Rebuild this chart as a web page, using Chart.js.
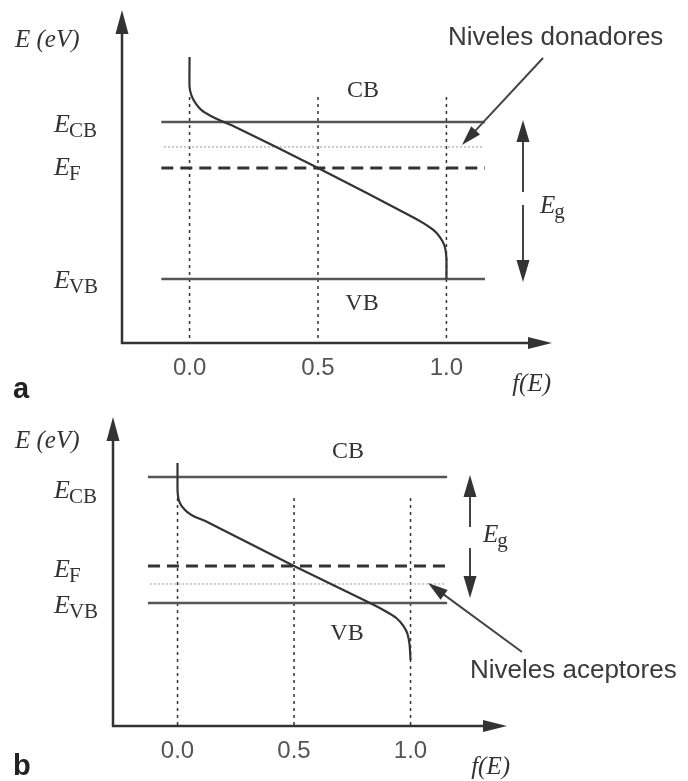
<!DOCTYPE html>
<html>
<head>
<meta charset="utf-8">
<script src="https://cdn.jsdelivr.net/npm/chart.js@4.4.1/dist/chart.umd.min.js"></script>
<style>
  body { margin: 0; background: #fff; }
  canvas { display: block; }
</style>
</head>
<body>
<canvas id="chartA" width="688" height="402"></canvas>
<canvas id="chartB" width="688" height="379"></canvas>
<script>
// Fermi-Dirac curve (f, E in units of Eg above E_VB)
// panel a: n-type
const fA = [0, 0, 0.008, 0.025, 0.05, 0.083, 0.124, 0.178, 0.5, 0.868, 0.912, 0.949, 0.974, 0.993, 1.0, 1.0];
const eA = [1.414, 1.223, 1.166, 1.115, 1.07, 1.038, 1.006, 0.968, 0.707, 0.395, 0.354, 0.312, 0.268, 0.21, 0.134, 0];
// panel b: p-type
const fB = [0, 0, 0.004, 0.017, 0.042, 0.076, 0.119, 0.5, 0.826, 0.891, 0.939, 0.97, 0.987, 0.996, 1.0];
const eB = [1.111, 0.897, 0.825, 0.77, 0.722, 0.683, 0.651, 0.294, 0, -0.063, -0.119, -0.183, -0.246, -0.333, -0.452];

const xTicks = [0, 0.5, 1.0];
const xTickLabels = ['0.0', '0.5', '1.0'];

// energy levels
const ecbA = 1, efA = 0.707, donorA = 0.841, evbA = 0;
const ecbB = 1, efB = 0.294, acceptorB = 0.151, evbB = 0;

// extents of the level lines along f(E)
const spanA = [-0.11, 1.15];
const spanB = [-0.127, 1.157];

function seg(x0, y0, x1, y1) {
  return [{x: x0, y: y0}, {x: x1, y: y1}];
}

function head(ctx, x0, y0, x1, y1, len, hw) {
  const ang = Math.atan2(y1 - y0, x1 - x0);
  ctx.beginPath();
  ctx.moveTo(x1, y1);
  ctx.lineTo(x1 - len * Math.cos(ang) + hw * Math.sin(ang), y1 - len * Math.sin(ang) - hw * Math.cos(ang));
  ctx.lineTo(x1 - len * Math.cos(ang) - hw * Math.sin(ang), y1 - len * Math.sin(ang) + hw * Math.cos(ang));
  ctx.closePath();
  ctx.fill();
}

function arrow(ctx, x0, y0, x1, y1, len, hw) {
  const ang = Math.atan2(y1 - y0, x1 - x0);
  ctx.beginPath();
  ctx.moveTo(x0, y0);
  ctx.lineTo(x1 - (len - 2) * Math.cos(ang), y1 - (len - 2) * Math.sin(ang));
  ctx.stroke();
  head(ctx, x0, y0, x1, y1, len, hw);
}

// italic E with roman subscript
function eLabel(ctx, x, y, sub, size) {
  ctx.textAlign = 'left';
  ctx.font = 'italic ' + size + 'px "Liberation Serif"';
  ctx.fillText('E', x, y);
  const w = ctx.measureText('E').width;
  ctx.font = Math.round(size * 0.82) + 'px "Liberation Serif"';
  ctx.fillText(sub, x + w - 1, y + 5);
}

const schematic = {
  id: 'schematic',
  afterDraw(chart, args, o) {
    const ctx = chart.ctx, a = chart.chartArea;
    const X = v => chart.scales.x.getPixelForValue(v);
    const Y = v => chart.scales.y.getPixelForValue(v);
    ctx.save();
    ctx.setLineDash([]);
    ctx.strokeStyle = '#333';
    ctx.fillStyle = '#333';
    ctx.lineWidth = 2.5;

    // axes with arrows
    arrow(ctx, a.left, a.bottom + 1, a.left, a.top, 24, 6.5);
    arrow(ctx, a.left - 1, a.bottom, a.right, a.bottom, 24, 6);

    // Eg double arrow
    ctx.strokeStyle = '#444';
    ctx.fillStyle = '#333';
    ctx.lineWidth = 2;
    arrow(ctx, o.egX, o.egGap[0], o.egX, Y(o.ecb) - 2, 22, 6.5);
    arrow(ctx, o.egX, o.egGap[1], o.egX, Y(o.evb) + o.egLow, 22, 6.5);

    // pointer to impurity levels
    arrow(ctx, o.ptr[0], o.ptr[1], o.ptr[2], o.ptr[3], 20, 6);

    // texts
    ctx.fillStyle = '#333';
    ctx.textBaseline = 'alphabetic';
    ctx.font = 'italic 25px "Liberation Serif"';
    ctx.textAlign = 'left';
    ctx.fillText('E (eV)', 15, o.eevY);
    eLabel(ctx, 54, Y(o.ecb) + o.lblOff[0], 'CB', 26);
    eLabel(ctx, 54, Y(o.ef) + o.lblOff[1], 'F', 26);
    eLabel(ctx, 54, Y(o.evb) + o.lblOff[2], 'VB', 26);
    eLabel(ctx, o.egLbl[0], o.egLbl[1], 'g', 25);

    ctx.font = '24px "Liberation Serif"';
    ctx.textAlign = 'center';
    ctx.fillText('CB', o.cb[0], o.cb[1]);
    ctx.fillText('VB', o.vb[0], o.vb[1]);

    ctx.font = 'italic 25px "Liberation Serif"';
    ctx.textAlign = 'right';
    ctx.fillText('f(E)', a.right + o.fOff, a.bottom + 48);

    ctx.fillStyle = '#555';
    ctx.font = '24px "Liberation Sans"';
    ctx.textAlign = 'center';
    xTicks.forEach((t, i) => ctx.fillText(xTickLabels[i], X(t), a.bottom + 32));

    ctx.fillStyle = '#3a3a3a';
    ctx.font = '26px "Liberation Sans"';
    ctx.textAlign = 'left';
    ctx.fillText(o.note, o.noteXY[0], o.noteXY[1]);

    ctx.fillStyle = '#222';
    ctx.font = 'bold 29px "Liberation Sans"';
    ctx.fillText(o.tag, 13, o.tagY);
    ctx.restore();
  }
};

function makePanel(id, cfg) {
  const datasets = [];
  datasets.push({
    data: cfg.f.map((f, i) => ({x: f, y: cfg.e[i]})),
    borderColor: '#333', borderWidth: 2.2, tension: 0.2, order: 0
  });
  datasets.push({data: seg(cfg.span[0], cfg.ecb, cfg.span[1], cfg.ecb), borderColor: '#555', borderWidth: 2.5, order: 1});
  datasets.push({data: seg(cfg.span[0], cfg.evb, cfg.span[1], cfg.evb), borderColor: '#555', borderWidth: 2.5, order: 1});
  datasets.push({data: seg(cfg.span[0], cfg.ef, cfg.span[1], cfg.ef), borderColor: '#333', borderWidth: 3, borderDash: [12, 7], order: 1});
  datasets.push({data: seg(cfg.span[0] + 0.01, cfg.imp, cfg.span[1] - 0.01, cfg.imp), borderColor: '#b8b8b8', borderWidth: 1.5, borderDash: [2, 2], order: 2});
  xTicks.forEach(t => {
    datasets.push({data: seg(t, cfg.vTop, t, cfg.yMin), borderColor: '#333', borderWidth: 1.5, borderDash: [3, 4], order: 3});
  });
  datasets.forEach(d => { d.pointRadius = 0; d.fill = false; d.clip = false; });

  return new Chart(document.getElementById(id).getContext('2d'), {
    type: 'line',
    data: {datasets: datasets},
    options: {
      responsive: false,
      animation: false,
      layout: {padding: cfg.pad},
      scales: {
        x: {type: 'linear', min: cfg.xMin, max: cfg.xMax, display: false},
        y: {type: 'linear', min: cfg.yMin, max: cfg.yMax, display: false}
      },
      plugins: {
        legend: {display: false},
        tooltip: {enabled: false},
        schematic: cfg.ann
      }
    },
    plugins: [schematic]
  });
}

makePanel('chartA', {
  f: fA, e: eA, span: spanA,
  ecb: ecbA, ef: efA, imp: donorA, evb: evbA,
  xMin: -0.263, xMax: 1.411, yMin: -0.408, yMax: 1.713, vTop: 1.159,
  pad: {left: 122, right: 136, top: 10, bottom: 59},
  ann: {
    ecb: ecbA, ef: efA, evb: evbA,
    egX: 523, egGap: [192, 205], egLow: 3, egLbl: [540, 213],
    ptr: [543, 58, 462, 145],
    eevY: 47, lblOff: [10, 7, 9],
    cb: [363, 97], vb: [362, 310], fOff: -1,
    note: 'Niveles donadores', noteXY: [448, 45],
    tag: 'a', tagY: 398
  }
});

makePanel('chartB', {
  f: fB, e: eB, span: spanB,
  ecb: ecbB, ef: efB, imp: acceptorB, evb: evbB,
  xMin: -0.277, xMax: 1.414, yMin: -0.976, yMax: 1.476, vTop: 0.833,
  pad: {left: 113, right: 181, top: 15, bottom: 55},
  ann: {
    ecb: ecbB, ef: efB, evb: evbB,
    egX: 470, egGap: [125, 146], egLow: -5, egLbl: [483, 140],
    ptr: [522, 250, 428, 181],
    eevY: 46, lblOff: [21, 11, 10],
    cb: [348, 56], vb: [347, 238], fOff: 3,
    note: 'Niveles aceptores', noteXY: [470, 276],
    tag: 'b', tagY: 373
  }
});
</script>
</body>
</html>
